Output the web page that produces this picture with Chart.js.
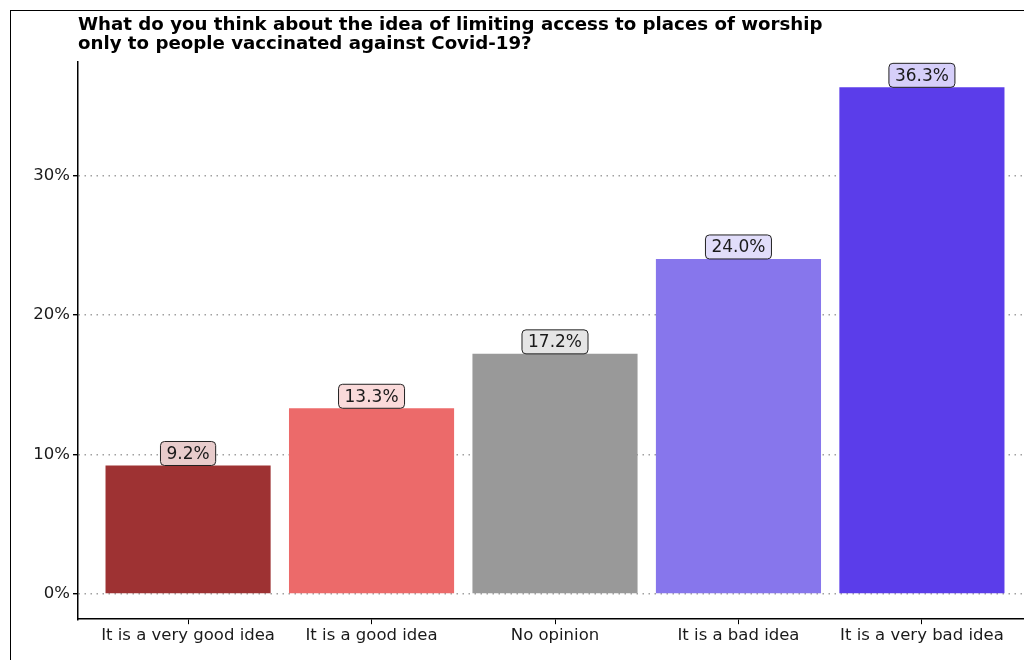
<!DOCTYPE html>
<html>
<head>
<meta charset="utf-8">
<script src="https://cdn.jsdelivr.net/npm/chart.js@4/dist/chart.umd.min.js"></script>
<style>
  html, body { margin: 0; padding: 0; background: #fff; overflow: hidden; }
  #frame { position: absolute; left: 10px; top: 10px; width: 1100px; height: 700px;
           border-left: 1.5px solid #000; border-top: 1.5px solid #000; }
  #wrap { position: absolute; left: 0; top: 0; width: 1040px; height: 660px; }
</style>
</head>
<body>
<div id="frame"></div>
<div id="wrap"><canvas id="chart"></canvas></div>
<script>
const titleLines = [
  "What do you think about the idea of limiting access to places of worship",
  "only to people vaccinated against Covid-19?"
];
const categories = ["It is a very good idea", "It is a good idea", "No opinion", "It is a bad idea", "It is a very bad idea"];
const shares = [9.2, 13.3, 17.2, 24.0, 36.3];
const yTicks = [0, 10, 20, 30];
const barColors = ["#9E3233", "#EC6A6A", "#999999", "#8776EC", "#5B3DEA"];
const labelFills = ["#E8CCCC", "#FADADA", "#E5E5E5", "#E1DDFA", "#D6CFFA"];

const fontFamily = "'DejaVu Sans', sans-serif";

const titlePlugin = {
  id: "titleText",
  afterDraw(chart) {
    const ctx = chart.ctx;
    ctx.save();
    ctx.fillStyle = "#000";
    ctx.font = "bold 18.2px " + fontFamily;
    ctx.textBaseline = "middle";
    ctx.textAlign = "left";
    titleLines.forEach((line, i) => {
      ctx.fillText(line, chart.chartArea.left, 25 + i * 19);
    });
    ctx.restore();
  }
};

const labelPlugin = {
  id: "barLabels",
  afterDatasetsDraw(chart) {
    const ctx = chart.ctx;
    const meta = chart.getDatasetMeta(0);
    ctx.save();
    ctx.font = "17px " + fontFamily;
    ctx.textAlign = "center";
    ctx.textBaseline = "middle";
    meta.data.forEach((bar, i) => {
      const text = shares[i].toFixed(1) + "%";
      const w = ctx.measureText(text).width + 12;
      const h = 24;
      const x = bar.x - w / 2;
      const y = bar.y - h;
      ctx.beginPath();
      ctx.roundRect(x, y, w, h, 4);
      ctx.fillStyle = labelFills[i];
      ctx.fill();
      ctx.lineWidth = 1;
      ctx.strokeStyle = "#222";
      ctx.stroke();
      ctx.fillStyle = "#1a1a1a";
      ctx.fillText(text, bar.x, y + h / 2 + 1);
    });
    ctx.restore();
  }
};

new Chart(document.getElementById("chart"), {
  type: "bar",
  data: {
    datasets: [{
      data: shares.map((v, i) => ({ x: i, y: v })),
      backgroundColor: barColors,
      borderWidth: 0,
      barPercentage: 0.9,
      categoryPercentage: 1.0
    }]
  },
  options: {
    responsive: true,
    maintainAspectRatio: false,
    animation: false,
    layout: { padding: { left: 0, right: 8, top: 62, bottom: 12 } },
    plugins: {
      legend: { display: false },
      tooltip: { enabled: false },
      title: { display: false }
    },
    scales: {
      x: {
        type: "linear",
        min: -0.6,
        max: 4.6,
        offset: false,
        afterBuildTicks(axis) {
          axis.ticks = categories.map((c, i) => ({ value: i }));
        },
        grid: {
          display: true,
          offset: false,
          drawOnChartArea: false,
          drawTicks: true,
          tickLength: 5,
          tickColor: "#000"
        },
        border: { display: true, color: "#000", width: 1.5 },
        ticks: {
          color: "#1a1a1a",
          font: { family: fontFamily, size: 16.5 },
          padding: 2,
          maxRotation: 0,
          autoSkip: false,
          callback: v => categories[v]
        }
      },
      y: {
        min: -1.815,
        max: 38.115,
        afterBuildTicks(axis) {
          axis.ticks = yTicks.map(v => ({ value: v }));
        },
        afterFit(axis) { axis.width = 78; },
        grid: {
          color: "#a0a0a0",
          lineWidth: 1.4,
          drawTicks: true,
          tickLength: 5,
          tickColor: "#000",
          tickBorderDash: []
        },
        border: { display: true, color: "#000", width: 1.5, dash: [1.5, 4.5] },
        ticks: {
          color: "#1a1a1a",
          font: { family: fontFamily, size: 16.5 },
          padding: 3,
          callback: v => v + "%"
        }
      }
    }
  },
  plugins: [titlePlugin, labelPlugin]
});
</script>
</body>
</html>
